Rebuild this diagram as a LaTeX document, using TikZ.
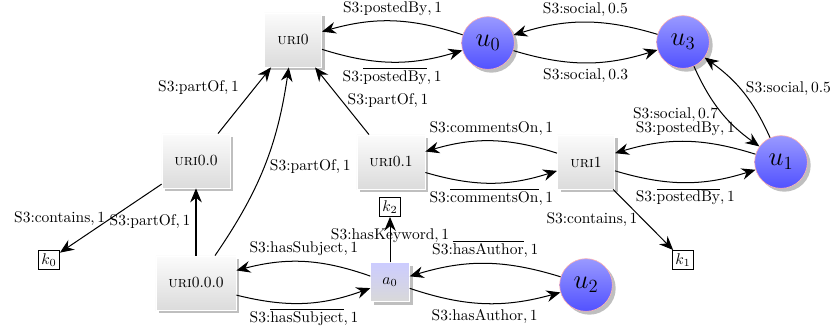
\documentclass[tikz,border=0pt]{standalone}
\usetikzlibrary{arrows.meta,shadows}
\begin{document}
\begin{tikzpicture}[x=0.645pt,y=0.645pt,
  uribox/.style={rectangle, draw=white, top color=gray!3, bottom color=gray!28, drop shadow, inner sep=8pt, minimum width=37pt, minimum height=35pt},
  artbox/.style={rectangle, draw=white, top color=blue!20, bottom color=gray!30, drop shadow, minimum size=25pt, inner sep=2pt},
  userball/.style={circle, draw=red!30, top color=blue!40, bottom color=blue!68, drop shadow, minimum size=34pt, inner sep=0pt, font=\LARGE},
  kw/.style={rectangle, draw=black, thin, inner sep=2pt, fill=white},
  arr/.style={-{Stealth[length=9pt,width=7.5pt,inset=3pt]}, line width=0.65pt}]
\useasboundingbox (0,0) rectangle (837,-328);

\node[uribox] (uri0) at (293,-40) {\textsc{uri}0};
\node[uribox] (uri00) at (196,-161) {\textsc{uri}0.0};
\node[uribox] (uri01) at (391,-162) {\textsc{uri}0.1};
\node[uribox] (uri1) at (586,-162) {\textsc{uri}1};
\node[uribox] (uri000) at (196,-283) {\textsc{uri}0.0.0};
\node[artbox] (a0) at (390,-282) {$a_0$};
\node[userball] (u0) at (488,-43) {$u_0$};
\node[userball] (u3) at (683,-42) {$u_3$};
\node[userball] (u1) at (781,-162) {$u_1$};
\node[userball] (u2) at (586,-285) {$u_2$};
\node[kw] (k0) at (49,-260) {$k_0$};
\node[kw] (k1) at (683,-260) {$k_1$};
\node[kw] (k2) at (390,-207) {$k_2$};

\draw[arr] (u0) to[bend right=17] node[above] {S3:postedBy$, 1$} (uri0);
\draw[arr] (uri0) to[bend right=17] node[below] {S3:$\overline{\mbox{postedBy}}, 1$} (u0);
\draw[arr] (u3) to[bend right=17] node[above] {S3:social$, 0.5$} (u0);
\draw[arr] (u0) to[bend right=17] node[below] {S3:social$, 0.3$} (u3);
\draw[arr] (u3) to[bend right=15] node[left,pos=0.55] {S3:social$, 0.7$} (u1);
\draw[arr] (u1) to[bend right=15] node[right,pos=0.55] {S3:social$, 0.5$} (u3);
\draw[arr] (u1) to[bend right=17] node[above] {S3:postedBy$, 1$} (uri1);
\draw[arr] (uri1) to[bend right=17] node[below] {S3:$\overline{\mbox{postedBy}}, 1$} (u1);
\draw[arr] (uri1) to[bend right=17] node[above] {S3:commentsOn$, 1$} (uri01);
\draw[arr] (uri01) to[bend right=17] node[below] {S3:$\overline{\mbox{commentsOn}}, 1$} (uri1);
\draw[arr] (uri1) -- node[left] {S3:contains$, 1$} (k1);
\draw[arr] (uri01) -- node[right] {S3:partOf$, 1$} (uri0);
\draw[arr] (uri00) -- node[above left] {S3:partOf$, 1$} (uri0);
\draw[arr] (uri000) to[bend right=13] node[right] {S3:partOf$, 1$} (uri0);
\draw[arr] (uri000) -- node[left] {S3:partOf$, 1$} (uri00);
\draw[arr] (uri00) -- node[left] {S3:contains$, 1$} (k0);
\draw[arr] (a0) -- node[pos=0.58] {S3:hasKeyword$, 1$} (k2);
\draw[arr] (a0) to[bend right=17] node[above] {S3:hasSubject$, 1$} (uri000);
\draw[arr] (uri000) to[bend right=17] node[below] {S3:$\overline{\mbox{hasSubject}}, 1$} (a0);
\draw[arr] (u2) to[bend right=17] node[above] {S3:$\overline{\mbox{hasAuthor}}, 1$} (a0);
\draw[arr] (a0) to[bend right=17] node[below] {S3:hasAuthor$, 1$} (u2);
\end{tikzpicture}
\end{document}
